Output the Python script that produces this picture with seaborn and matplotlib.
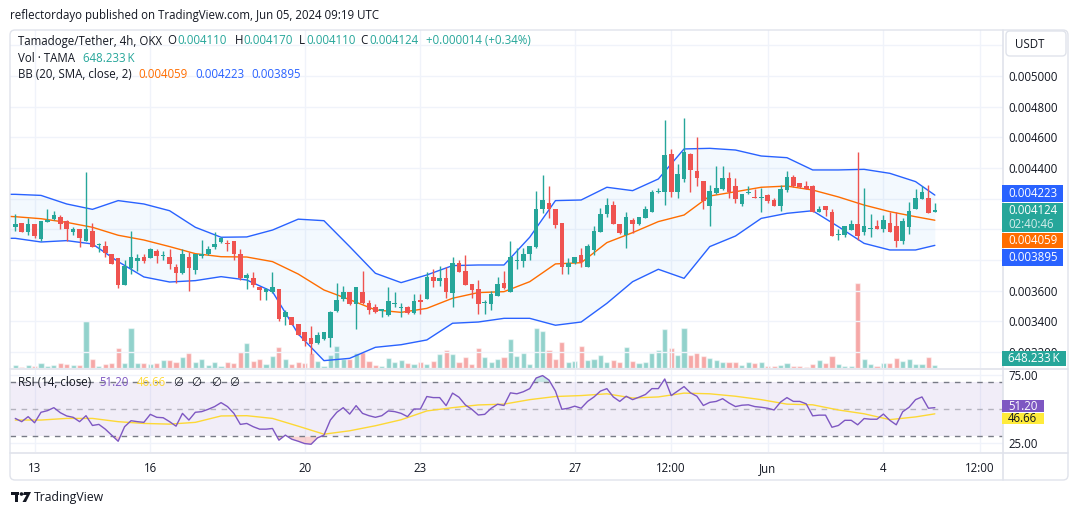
import numpy as np
import pandas as pd
import seaborn as sns
import matplotlib.pyplot as plt
import matplotlib.transforms as mtransforms
from matplotlib.patches import FancyBboxPatch, Rectangle, Circle, Polygon
from matplotlib.lines import Line2D
from matplotlib.text import Annotation

W, H = 1080, 515
FS = 8.3

# TAMA/USDT 4h candles (OKX), May 12 12:00 -> Jun 05 08:00 UTC, prices in 1e-6 USDT
opens = [4017, 4039, 3985, 4035, 3935, 4050, 4065, 4078, 4054, 3985,
         4002, 3926, 3989, 3900, 3891, 3839, 3813, 3639, 3750, 3795,
         3819, 3815, 3858, 3828, 3819, 3754, 3717, 3819, 3735, 3828,
         3837, 3884, 3919, 3908, 3924, 3837, 3680, 3680, 3621, 3589,
         3589, 3608, 3426, 3426, 3380, 3330, 3291, 3256, 3284, 3293,
         3469, 3548, 3591, 3511, 3591, 3517, 3493, 3465, 3439, 3515,
         3489, 3493, 3452, 3539, 3548, 3687, 3665, 3682, 3587, 3780,
         3726, 3643, 3611, 3517, 3513, 3567, 3650, 3593, 3795, 3795,
         3837, 3884, 4132, 4169, 4132, 4039, 3756, 3778, 3830, 3756,
         3865, 3982, 4098, 4156, 4032, 3963, 4061, 4037, 4076, 4115,
         4245, 4245, 4491, 4245, 4330, 4491, 4380, 4315, 4152, 4235,
         4263, 4335, 4282, 4165, 4239, 4211, 4206, 4224, 4191, 4152,
         4256, 4341, 4302, 4282, 4282, 4115, 4152, 4113, 3965, 3963,
         3995, 4035, 3985, 4002, 4021, 4002, 4041, 4021, 3924, 4017,
         4132, 4198, 4204, 4110]
highs = [4100, 4041, 4071, 4037, 4056, 4132, 4119, 4091, 4061, 4013,
         4004, 4374, 4039, 3908, 3926, 3841, 3815, 3800, 3991, 3839,
         3839, 3876, 3869, 3861, 3869, 3774, 3869, 3852, 3839, 3930,
         3891, 3982, 3952, 3930, 3926, 3869, 3713, 3721, 3624, 3615,
         3721, 3611, 3474, 3430, 3382, 3332, 3369, 3330, 3332, 3465,
         3648, 3630, 3593, 3626, 3728, 3539, 3511, 3480, 3624, 3591,
         3519, 3500, 3578, 3578, 3721, 3741, 3761, 3756, 3821, 3800,
         3832, 3645, 3669, 3539, 3598, 3689, 3728, 3924, 3876, 3880,
         3893, 4252, 4354, 4282, 4134, 4041, 3813, 3821, 3880, 3902,
         4021, 4137, 4202, 4185, 4034, 4113, 4076, 4082, 4154, 4256,
         4267, 4713, 4524, 4426, 4726, 4495, 4602, 4317, 4289, 4413,
         4413, 4374, 4335, 4232, 4282, 4263, 4269, 4230, 4204, 4289,
         4380, 4354, 4304, 4315, 4289, 4152, 4154, 4132, 4002, 4024,
         4061, 4506, 4271, 4100, 4061, 4093, 4113, 4113, 4074, 4178,
         4263, 4282, 4289, 4170]
lows = [3991, 3982, 3963, 3945, 3926, 4048, 4061, 4004, 3926, 3963,
        3882, 3924, 3882, 3854, 3821, 3774, 3615, 3637, 3708, 3730,
        3778, 3813, 3782, 3800, 3743, 3650, 3706, 3600, 3706, 3815,
        3835, 3874, 3913, 3861, 3798, 3669, 3613, 3626, 3539, 3539,
        3587, 3404, 3374, 3374, 3309, 3239, 3187, 3252, 3278, 3235,
        3463, 3532, 3509, 3352, 3515, 3448, 3452, 3430, 3437, 3495,
        3430, 3448, 3448, 3445, 3546, 3626, 3632, 3554, 3495, 3722,
        3637, 3554, 3450, 3450, 3474, 3565, 3611, 3591, 3743, 3756,
        3800, 3880, 4104, 4076, 4011, 3711, 3711, 3776, 3756, 3754,
        3832, 3980, 4082, 4035, 3967, 3880, 3974, 4028, 4074, 4113,
        4235, 4158, 4213, 4206, 4311, 4245, 4282, 4132, 4024, 4230,
        4256, 4204, 4174, 4152, 4230, 4204, 4115, 4174, 4150, 4121,
        4243, 4278, 4271, 4261, 4111, 4111, 4087, 3954, 3930, 3950,
        3993, 3930, 3963, 3952, 4000, 3982, 3980, 3882, 3904, 3969,
        4130, 4196, 4104, 4110]
closes = [4035, 3985, 4035, 3956, 4054, 4061, 4091, 4035, 4004, 4002,
          3945, 4002, 3887, 3906, 3848, 3776, 3639, 3761, 3819, 3813,
          3795, 3869, 3828, 3832, 3771, 3717, 3837, 3750, 3837, 3837,
          3869, 3902, 3941, 3904, 3837, 3680, 3700, 3635, 3604, 3608,
          3621, 3417, 3463, 3376, 3311, 3274, 3252, 3311, 3330, 3463,
          3539, 3591, 3511, 3624, 3517, 3474, 3458, 3478, 3532, 3519,
          3493, 3452, 3532, 3528, 3691, 3665, 3680, 3591, 3780, 3724,
          3639, 3604, 3513, 3524, 3578, 3643, 3619, 3819, 3800, 3839,
          3891, 4132, 4191, 4132, 4028, 3756, 3782, 3819, 3787, 3891,
          3989, 4098, 4156, 4037, 3978, 4080, 4037, 4080, 4132, 4243,
          4250, 4485, 4245, 4361, 4506, 4387, 4335, 4187, 4250, 4269,
          4335, 4243, 4198, 4230, 4243, 4206, 4211, 4185, 4152, 4263,
          4341, 4282, 4278, 4263, 4113, 4132, 4126, 3956, 3969, 4021,
          4035, 3956, 4021, 4008, 4002, 4061, 3982, 3924, 4054, 4119,
          4204, 4243, 4106, 4124]
volume_k = [650, 260, 650, 455, 1040, 455, 650, 1040, 845, 650,
            650, 9230, 1820, 455, 845, 1040, 3965, 1040, 7865, 1040,
            1040, 845, 1040, 1625, 1625, 1235, 2210, 2990, 1235, 1820,
            650, 1235, 455, 1235, 1040, 3185, 4940, 1430, 1820, 845,
            2405, 4160, 1820, 845, 1235, 1040, 2990, 1430, 455, 2600,
            4355, 1820, 1820, 2990, 3185, 1430, 650, 455, 2015, 1235,
            1625, 1040, 845, 1235, 845, 1430, 2795, 3575, 2795, 1235,
            2210, 845, 3965, 2210, 1235, 1820, 2210, 5720, 2405, 2990,
            845, 7865, 7280, 3575, 1820, 5135, 1235, 1430, 4355, 1625,
            1820, 2600, 1235, 1625, 1235, 4160, 1430, 1040, 1235, 2990,
            3575, 7670, 3965, 2600, 7865, 2600, 2990, 2405, 2015, 1625,
            1235, 1235, 1235, 650, 1235, 1040, 1235, 455, 455, 650,
            1040, 455, 455, 260, 845, 1625, 1040, 2405, 845, 455,
            455, 16640, 1820, 845, 455, 1040, 1040, 2015, 1430, 1820,
            845, 845, 2210, 648.233]

# Bollinger bands (20, SMA, close, 2) read every 4 candles
bb_idx = [-1, 0, 4, 8, 12, 16, 20, 24, 28, 32, 36, 40, 44, 48, 52, 56, 60, 64, 68,
          72, 76, 80, 84, 88, 92, 96, 100, 104, 108, 112, 116, 120, 124, 128, 132, 136, 140, 143]
bb_upper = [4228, 4228, 4221, 4165, 4130, 4187, 4165, 4121, 4013, 3948, 3950, 3995, 4066, 4056,
            3887, 3713, 3652, 3702, 3763, 3767, 3767, 3948, 4187, 4191, 4274, 4252, 4328, 4524,
            4528, 4517, 4478, 4467, 4387, 4387, 4391, 4365, 4311, 4223]
bb_basis = [4084, 4082, 4069, 4045, 4013, 3961, 3930, 3887, 3841, 3821, 3819, 3789, 3708, 3604,
            3541, 3474, 3458, 3484, 3550, 3587, 3593, 3658, 3774, 3782, 3913, 3978, 4050, 4093,
            4217, 4245, 4274, 4282, 4256, 4211, 4158, 4115, 4082, 4059]
bb_lower = [3941, 3941, 3917, 3926, 3904, 3789, 3689, 3656, 3665, 3691, 3669, 3593, 3317, 3143,
            3158, 3230, 3247, 3278, 3387, 3395, 3419, 3419, 3374, 3395, 3517, 3658, 3739, 3680,
            3887, 3956, 4071, 4104, 4121, 4017, 3908, 3865, 3865, 3895]

# RSI (14, close) per candle, and its moving average read every 4 candles
rsi = [43.3, 40.9, 44.6, 40.1, 47.8, 49.0, 51.2, 47.5, 45.1, 44.1,
       40.9, 45.3, 38.1, 38.9, 35.4, 31.0, 26.5, 37.2, 41.6, 40.9,
       40.4, 46.3, 44.1, 43.8, 40.9, 37.6, 47.0, 42.1, 47.8, 48.3,
       50.0, 52.0, 54.9, 52.0, 47.0, 38.9, 39.6, 37.2, 35.4, 35.4,
       35.9, 27.3, 31.0, 28.0, 26.5, 24.8, 24.3, 29.0, 31.0, 42.1,
       47.8, 51.2, 46.5, 52.7, 47.0, 45.3, 44.1, 45.3, 48.8, 48.3,
       47.0, 44.6, 50.2, 50.2, 59.4, 58.6, 58.6, 52.7, 61.9, 58.9,
       53.2, 50.0, 45.8, 46.3, 50.7, 53.7, 52.8, 62.1, 61.4, 62.9,
       65.2, 73.0, 74.8, 71.5, 63.4, 50.0, 50.8, 52.3, 50.8, 55.8,
       59.1, 63.4, 65.2, 59.1, 55.8, 59.6, 57.1, 58.9, 60.9, 65.2,
       65.2, 72.3, 60.1, 63.4, 66.7, 62.1, 59.6, 52.8, 55.1, 55.8,
       57.8, 54.6, 52.0, 53.0, 53.3, 52.0, 51.5, 50.8, 49.5, 55.3,
       58.6, 55.8, 55.8, 54.0, 45.2, 45.7, 45.7, 36.8, 38.1, 41.9,
       41.9, 38.6, 43.2, 42.7, 42.7, 46.5, 41.9, 38.6, 48.2, 51.5,
       57.1, 59.1, 50.8, 51.2]
ma_idx = [0, 4, 8, 12, 16, 20, 24, 28, 32, 36, 40, 44, 48, 52, 56, 60, 64, 68, 72,
          76, 80, 84, 88, 92, 96, 100, 104, 108, 112, 116, 120, 124, 128, 132, 136, 140, 143]
rsi_ma = [42.1, 42.1, 43.3, 43.3, 40.9, 39.6, 39.1, 40.4, 45.1, 45.3, 43.3, 37.6, 31.7,
          34.2, 37.9, 42.3, 48.8, 51.2, 53.2, 53.8, 57.1, 59.4, 60.1, 61.4, 58.3, 59.1,
          61.9, 61.4, 59.6, 57.1, 53.8, 53.3, 49.5, 46.7, 42.4, 44.4, 46.66]

tick_pos = [3, 21, 45, 63, 87, 102, 117, 135, 150]
tick_lbl = ['13', '16', '20', '23', '27', '12:00', 'Jun', '4', '12:00']
# price grid every 0.0002; the scale labels hidden under the value tags are left blank
price_grid = [3200, 3400, 3600, 3800, 4000, 4200, 4400, 4600, 4800, 5000, 5200]
price_shown = [3200, 3400, 3600, 4400, 4600, 4800, 5000]

UP, DOWN = '#26a69a', '#ef5350'
TXT = '#131722'
BLUE, ORANGE, PURPLE, YELLOW = '#2962ff', '#ff6d00', '#7e57c2', '#fdd835'
GRID = '#f0f3fa'
BORDER = '#e0e3eb'

sns.set_theme(style='white')
plt.rcParams['font.family'] = ['Open Sans', 'DejaVu Sans']

o = np.array(opens) * 1e-6
h = np.array(highs) * 1e-6
l = np.array(lows) * 1e-6
c = np.array(closes) * 1e-6
n = len(c)
idx = np.arange(n)
up = c >= o
col = np.where(up, UP, DOWN)
rsi = np.array(rsi)

fig = plt.figure(figsize=(W / 100, H / 100), dpi=100)
px = mtransforms.Affine2D().scale(1 / W, -1 / H).translate(0, 1) + fig.transFigure


def box(left, top, right, bottom):
    return [left / W, 1 - bottom / H, (right - left) / W, (bottom - top) / H]


ax = fig.add_axes(box(10, 30, 1003, 368))
axv = ax.twinx()
axr = fig.add_axes(box(10, 370, 1003, 452))
ax.set_zorder(axv.get_zorder() + 1)
ax.patch.set_visible(False)

# volume
vol_df = pd.DataFrame({'i': idx, 'vol': np.array(volume_k) * 1e3,
                       'dir': np.where(up, 'up', 'down')})
sns.barplot(data=vol_df, x='i', y='vol', hue='dir', palette={'up': UP, 'down': DOWN},
            dodge=False, width=0.8, saturation=1, alpha=0.5, errorbar=None,
            legend=False, ax=axv)
axv.set_ylim(0, 6.59e7)
axv.set_yticks([])
axv.set_xlabel('')
axv.set_ylabel('')

# bollinger bands
bbi = np.array(bb_idx)
bu, bm, bl = (np.array(v) * 1e-6 for v in (bb_upper, bb_basis, bb_lower))
ax.fill_between(bbi, bl, bu, color='#2196f3', alpha=0.05, lw=0, zorder=1)
sns.lineplot(x=bbi, y=bu, ax=ax, color=BLUE, lw=1, zorder=2)
sns.lineplot(x=bbi, y=bl, ax=ax, color=BLUE, lw=1, zorder=2)
sns.lineplot(x=bbi, y=bm, ax=ax, color=ORANGE, lw=1, zorder=2)

# candles
ax.vlines(idx, l, h, colors=col, lw=1, zorder=3)
body = np.maximum(np.abs(c - o), 6e-6)
ax.bar(idx, body, bottom=np.minimum(o, c), width=0.72, color=col, lw=0, zorder=4)

ax.set_yticks(np.array(price_grid) * 1e-6)
ax.set_yticklabels([f'{t * 1e-6:.6f}' if t in price_shown else '' for t in price_grid])
ax.set_ylim(3.095e-3, 5.300e-3)
ax.yaxis.tick_right()
ax.tick_params(axis='y', length=0, pad=4, labelsize=FS, labelcolor=TXT)
ax.set_xticks(tick_pos)
ax.tick_params(axis='x', length=0, labelbottom=False)
ax.grid(True, color=GRID, lw=1)
ax.set_xlabel('')
ax.set_ylabel('')
ax.set_xlim(-0.82, 153.6)
for a in (ax, axv, axr):
    for s in a.spines.values():
        s.set_visible(False)

# RSI pane
axr.axhspan(30, 70, color=PURPLE, alpha=0.1, lw=0)
for lvl, al in [(70, 1), (50, 0.5), (30, 1)]:
    axr.axhline(lvl, color='#787b86', lw=1, ls=(0, (4, 4)), alpha=al)
axr.fill_between(idx, rsi, 30, where=rsi < 30, interpolate=True, color=DOWN, alpha=0.25, lw=0)
axr.fill_between(idx, rsi, 70, where=rsi > 70, interpolate=True, color=UP, alpha=0.25, lw=0)
sns.lineplot(x=np.array(ma_idx), y=np.array(rsi_ma), ax=axr, color=YELLOW, lw=1)
sns.lineplot(x=idx, y=rsi, ax=axr, color=PURPLE, lw=1)
axr.set_yticks([25, 75])
axr.set_yticklabels(['25.00', '75.00'])
axr.set_ylim(18.6, 78.9)
axr.yaxis.tick_right()
axr.tick_params(axis='y', length=0, pad=4, labelsize=FS, labelcolor=TXT)
axr.set_xticks(tick_pos)
axr.set_xticklabels(tick_lbl)
axr.tick_params(axis='x', length=0, pad=7, labelsize=FS, labelcolor=TXT)
axr.grid(True, color=GRID, lw=1)
axr.set_xlim(-0.82, 153.6)
axr.set_xlabel('')
axr.set_ylabel('')

# frame and separators
fig.add_artist(FancyBboxPatch((0.10, 0.35), 10.58, 4.50, boxstyle='round,pad=0,rounding_size=0.05',
                              transform=fig.dpi_scale_trans, fill=False, ec=BORDER, lw=1,
                              zorder=5))
for x0, y0, x1, y1 in [(10, 369, 1068, 369), (10, 452.5, 1068, 452.5), (1003, 30, 1003, 480)]:
    fig.add_artist(Line2D([x0, x1], [y0, y1], transform=px, color=BORDER, lw=1.2, zorder=5))


def chain(x, y, parts, size=FS):
    t = fig.text(x, y, parts[0][0], color=parts[0][1], fontsize=size,
                 va='center', ha='left', transform=px, zorder=6)
    for s, colr, gap in parts[1:]:
        t = fig.add_artist(Annotation(s, xy=(1, 0), xycoords=t, xytext=(gap, 0),
                                      textcoords='offset pixels', va='bottom', ha='left',
                                      color=colr, fontsize=size, zorder=6))
    return t


fig.text(10, 15, 'reflectordayo published on TradingView.com, Jun 05, 2024 09:19 UTC',
         transform=px, fontsize=FS, color=TXT, va='center', ha='left')

chg = c[-1] - o[-1]
chain(18, 41, [('Tamadoge/Tether, 4h, OKX', TXT),
               ('O', TXT, 5), (f'{o[-1]:.6f}', UP, 1),
               ('H', TXT, 8), (f'{h[-1]:.6f}', UP, 1),
               ('L', TXT, 6), (f'{l[-1]:.6f}', UP, 1),
               ('C', TXT, 5), (f'{c[-1]:.6f}', UP, 1),
               (f'+{chg:.6f} (+{chg / o[-1] * 100:.2f}%)', UP, 8)])
chain(18, 58, [('Vol \u00b7 TAMA', TXT), (f'{volume_k[-1]:.3f}\u2009K', UP, 8)])
chain(18, 75, [('BB (20, SMA, close, 2)', TXT), (f'{bm[-1]:.6f}', ORANGE, 7),
               (f'{bu[-1]:.6f}', BLUE, 7), (f'{bl[-1]:.6f}', BLUE, 7)])
chain(18, 382, [('RSI (14, close)', TXT), (f'{rsi[-1]:.2f}', PURPLE, 8),
                (f'{rsi_ma[-1]:.2f}', YELLOW, 8), ('\u2205', TXT, 8), ('\u2205', TXT, 7),
                ('\u2205', TXT, 10), ('\u2205', TXT, 8)])

# price-scale labels
fig.add_artist(FancyBboxPatch((10.06, 4.59), 0.60, 0.25, boxstyle='round,pad=0,rounding_size=0.04',
                              transform=fig.dpi_scale_trans, fc='white', ec=BORDER, lw=1,
                              zorder=10))
fig.text(1015, 44, 'USDT', transform=px, fontsize=FS, color=TXT, va='center', ha='left',
         zorder=11)

tags = [(185, 202, 1063, BLUE, [f'{bu[-1]:.6f}'], 'white'),
        (203, 232, 1063, UP, [f'{c[-1]:.6f}', '02:40:46'], 'white'),
        (233, 248, 1063, ORANGE, [f'{bm[-1]:.6f}'], 'white'),
        (249, 266, 1063, BLUE, [f'{bl[-1]:.6f}'], 'white'),
        (351, 366, 1066, UP, [f'{volume_k[-1]:.3f}\u2009K'], 'white'),
        (400, 412, 1044, PURPLE, [f'{rsi[-1]:.2f}'], 'white'),
        (413, 424, 1044, '#ffeb3b', [f'{rsi_ma[-1]:.2f}'], TXT)]
for top, bot, right, fc, lines, tc in tags:
    fig.add_artist(Rectangle((1002, top), right - 1002, bot - top, transform=px, fc=fc, lw=0,
                             zorder=10))
    step = (bot - top) / len(lines)
    for k, s in enumerate(lines):
        fig.text(1008, top + step * (k + 0.5), s, transform=px, fontsize=FS, color=tc,
                 alpha=1 if k == 0 else 0.8, va='center', ha='left', zorder=11)

# footer logo
for art in [Rectangle((11, 492), 8, 3, transform=px, fc=TXT, lw=0),
            Rectangle((15, 492), 3.2, 10, transform=px, fc=TXT, lw=0),
            Circle((21.5, 494), 1.8, transform=px, fc=TXT, lw=0),
            Polygon([(24, 492), (31, 492), (26, 502), (22.5, 502), (26.5, 495), (23, 495)],
                    closed=True, transform=px, fc=TXT, lw=0)]:
    fig.add_artist(art)
fig.text(34, 497, 'TradingView', transform=px, fontsize=FS + 0.5, color=TXT,
         va='center', ha='left')

fig.savefig('out.png', dpi=100, facecolor='white')
